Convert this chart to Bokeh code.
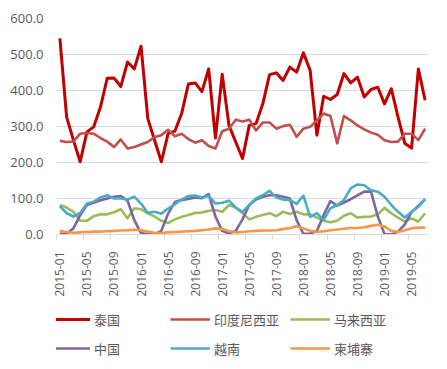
import math
from bokeh.plotting import figure
from bokeh.layouts import column
from bokeh.models import FixedTicker, Legend, LegendItem, PrintfTickFormatter
from bokeh.embed import file_html
from bokeh.resources import INLINE

months = ["2015-01", "2015-02", "2015-03", "2015-04", "2015-05", "2015-06", "2015-07", "2015-08", "2015-09", "2015-10", "2015-11", "2015-12",
          "2016-01", "2016-02", "2016-03", "2016-04", "2016-05", "2016-06", "2016-07", "2016-08", "2016-09", "2016-10", "2016-11", "2016-12",
          "2017-01", "2017-02", "2017-03", "2017-04", "2017-05", "2017-06", "2017-07", "2017-08", "2017-09", "2017-10", "2017-11", "2017-12",
          "2018-01", "2018-02", "2018-03", "2018-04", "2018-05", "2018-06", "2018-07", "2018-08", "2018-09", "2018-10", "2018-11", "2018-12",
          "2019-01", "2019-02", "2019-03", "2019-04", "2019-05", "2019-06", "2019-07"]

thailand = [545, 326, 262, 202, 285, 299, 354, 434, 435, 411, 479, 460,
            523, 322, 262, 202, 280, 287, 336, 418, 421, 397, 460, 268,
            445, 303, 257, 211, 303, 308, 363, 444, 449, 428, 465, 451,
            505, 456, 276, 384, 375, 389, 447, 421, 437, 382, 403, 409,
            363, 405, 326, 253, 240, 460, 373]
indonesia = [260, 257, 258, 280, 282, 280, 268, 258, 243, 264, 239, 243,
             250, 257, 271, 276, 291, 273, 280, 265, 255, 262, 246, 239,
             287, 294, 319, 314, 319, 289, 311, 311, 294, 301, 305, 271,
             294, 299, 317, 336, 329, 253, 329, 317, 303, 292, 283, 277,
             262, 257, 258, 280, 280, 262, 294]
malaysia = [82, 75, 63, 38, 38, 51, 56, 56, 62, 70, 45, 73,
            70, 59, 50, 38, 32, 42, 49, 54, 60, 61, 66, 68,
            63, 82, 75, 59, 42, 49, 54, 59, 51, 63, 57, 63,
            56, 56, 47, 38, 34, 38, 52, 59, 47, 49, 50, 56,
            74, 59, 47, 36, 45, 36, 59]
china = [2, 2, 17, 54, 82, 88, 95, 100, 105, 107, 94, 40,
         4, 0, 1, 10, 58, 90, 96, 99, 103, 101, 112, 50,
         10, 3, 10, 42, 82, 97, 105, 109, 109, 105, 100, 40,
         2, 2, 10, 54, 93, 80, 89, 98, 109, 119, 119, 50,
         1, 0, 8, 28, 62, 80, 98]
vietnam = [79, 59, 50, 60, 86, 91, 103, 109, 100, 100, 97, 105,
           86, 60, 63, 58, 72, 84, 97, 107, 108, 103, 107, 86,
           88, 94, 75, 63, 82, 100, 109, 121, 103, 97, 96, 85,
           108, 49, 59, 40, 73, 82, 96, 128, 139, 137, 123, 119,
           105, 82, 63, 47, 63, 77, 98]
cambodia = [10, 7, 5, 6, 7, 8, 8, 9, 10, 11, 12, 13,
            12, 8, 5, 4, 6, 7, 8, 9, 10, 12, 14, 17,
            15, 9, 6, 7, 9, 10, 11, 11, 12, 15, 18, 23,
            17, 10, 7, 9, 12, 14, 16, 18, 18, 20, 24, 27,
            22, 10, 7, 12, 17, 19, 19]

names = ["泰国", "印度尼西亚", "马来西亚", "中国", "越南", "柬埔寨"]
y_ticks = [0, 100, 200, 300, 400, 500, 600]

series = [thailand, indonesia, malaysia, china, vietnam, cambodia]
colors = ["#C00000", "#C0504D", "#9BBB59", "#8064A2", "#4BACC6", "#F79646"]
widths = [3, 2.6, 2.6, 2.6, 2.6, 2.6]

x = list(range(len(months)))

p = figure(width=447, height=300, output_backend="svg", toolbar_location=None,
           x_range=(-0.5, len(months) - 0.5), y_range=(0, 600),
           min_border_left=56, min_border_right=19, min_border_top=18, min_border_bottom=66)
p.outline_line_color = None
p.xgrid.visible = False
p.ygrid.grid_line_color = "#d9d9d9"
p.ygrid.grid_line_width = 1

p.yaxis.ticker = FixedTicker(ticks=y_ticks)
p.yaxis.formatter = PrintfTickFormatter(format="%.1f")
p.yaxis.axis_line_color = None
p.yaxis.major_tick_line_color = None
p.yaxis.major_tick_out = 0
p.yaxis.major_tick_in = 0
p.yaxis.minor_tick_line_color = None
p.yaxis.major_label_standoff = 13
p.yaxis.major_label_text_font = "Open Sans"
p.yaxis.major_label_text_font_size = "13px"
p.yaxis.major_label_text_color = "#595959"

label_idx = list(range(0, len(months), 4))
p.xaxis.ticker = FixedTicker(ticks=label_idx, minor_ticks=[i - 0.5 for i in range(0, len(months) + 1, 4)])
p.xaxis.major_label_overrides = {i: months[i] for i in label_idx}
p.xaxis.major_label_orientation = math.pi / 2
p.xaxis.major_tick_line_color = None
p.xaxis.major_tick_out = 0
p.xaxis.major_tick_in = 0
p.xaxis.minor_tick_in = 0
p.xaxis.minor_tick_out = 5
p.xaxis.minor_tick_line_color = "#d9d9d9"
p.xaxis.axis_line_color = "#d9d9d9"
p.xaxis.major_label_standoff = 12
p.xaxis.major_label_text_font = "Open Sans"
p.xaxis.major_label_text_font_size = "12px"
p.xaxis.major_label_text_color = "#595959"

for vals, c, w in zip(series, colors, widths):
    p.line(x, vals, line_color=c, line_width=w, line_join="round")

# legend strip below the chart (single-point proxy lines so the legend has glyphs)
lg = figure(width=447, height=69, output_backend="svg", toolbar_location=None,
            x_axis_location=None, y_axis_location=None,
            min_border_left=0, min_border_right=0, min_border_top=0, min_border_bottom=0)
lg.outline_line_color = None
lg.grid.visible = False
items = []
for name, vals, c, w in zip(names, series, colors, widths):
    r = lg.line(x=x[:1], y=vals[:1], line_color=c, line_width=w)
    items.append(LegendItem(label=name, renderers=[r]))

legend = Legend(items=items, location=(-6, 11), orientation="horizontal", ncols=3,
                glyph_width=40, glyph_height=20, label_standoff=4, label_width=67,
                spacing=9, padding=0, margin=0, border_line_color=None,
                background_fill_alpha=0,
                label_text_font="Noto Sans CJK SC", label_text_font_size="13px",
                label_text_color="#595959")
lg.add_layout(legend, "center")

open("out.html", "w").write(file_html(column(p, lg, spacing=0), INLINE))
